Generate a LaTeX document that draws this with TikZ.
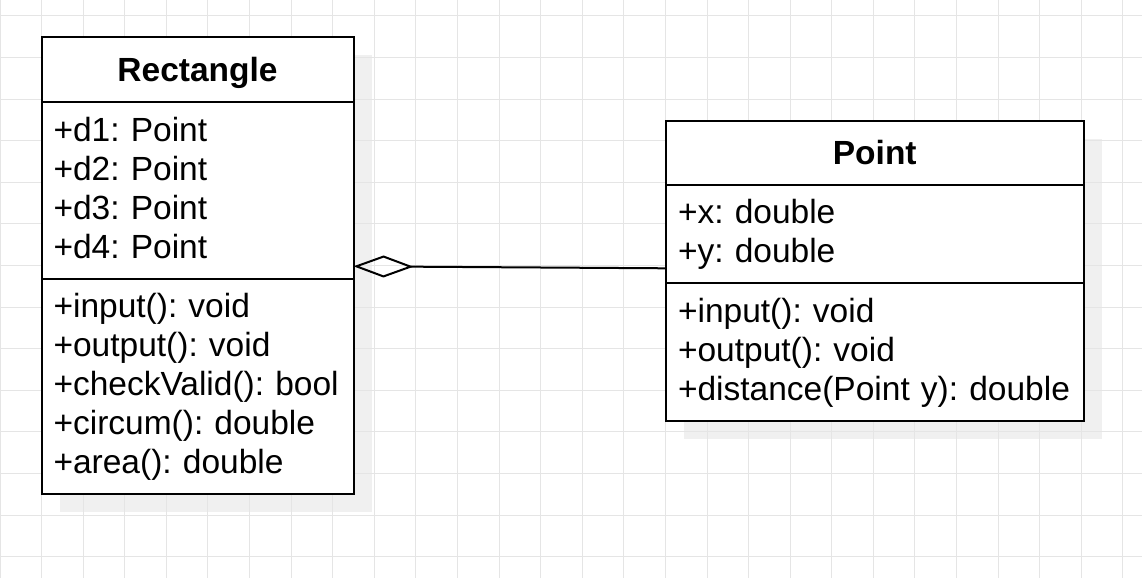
\documentclass[tikz,border=0pt]{standalone}
\usepackage{fontspec}
\setmainfont{Liberation Sans}
\usetikzlibrary{positioning,arrows.meta,backgrounds}
\definecolor{gridgray}{RGB}{229,229,229}
\definecolor{shadowgray}{RGB}{240,240,240}
\newcommand{\umlstrut}{\rule[-10.5pt]{0pt}{39pt}}
\frenchspacing
\tikzset{
  classhead/.style={draw,fill=white,line width=2pt,outer sep=0pt,inner sep=0pt,
    font=\fontsize{33.5}{39}\bfseries\selectfont,text height=24pt,text depth=0pt},
  classpart/.style={draw,fill=white,line width=2pt,outer sep=0pt,inner xsep=12pt,inner ysep=0pt,
    align=left,font=\fontsize{33.5}{39}\selectfont,
    execute at begin node=\umlstrut,execute at end node=\umlstrut},
  gridline/.style={gridgray,line width=1pt},
  aggregation/.style={line width=2pt,-{Diamond[open,length=60pt,width=22pt]}}
}
\begin{document}
\begin{tikzpicture}[x=1pt,y=-1pt]
\useasboundingbox (0,0) rectangle (1142,578);
\begin{scope}[yshift=-16pt]
\draw[gridline,step=41.59pt] (0pt,16pt) grid (1142pt,-562pt);
\end{scope}
\node[classhead,minimum width=312pt,minimum height=65pt,anchor=north west] (rectHead) at (41.5,37) {Rectangle};
\node[classpart,text width=288pt,minimum height=177.3pt,below=0pt of rectHead] (rectAttr)
  {+d1: Point\\+d2: Point\\+d3: Point\\+d4: Point};
\node[classpart,text width=288pt,minimum height=215pt,below=0pt of rectAttr] (rectOps)
  {+input(): void\\+output(): void\\+checkValid(): bool\\+circum(): double\\+area(): double};
\node[classhead,minimum width=417.5pt,minimum height=64.3pt,anchor=north west] (pointHead) at (666,120.7) {Point};
\node[classpart,text width=393.5pt,minimum height=98.3pt,below=0pt of pointHead] (pointAttr)
  {+x: double\\+y: double};
\node[classpart,text width=393.5pt,minimum height=137.7pt,below=0pt of pointAttr] (pointOps)
  {+input(): void\\+output(): void\\+distance(Point y): double};
\draw[aggregation] ([yshift=15pt]pointAttr.south west) -- ([yshift=13pt]rectAttr.south east);
\begin{pgfonlayer}{background}
\fill[white] (0,0) rectangle (1142,578);
\fill[shadowgray] ([shift={(18pt,-18pt)}]rectHead.north west) rectangle ([shift={(18pt,-18pt)}]rectOps.south east);
\fill[shadowgray] ([shift={(18pt,-18pt)}]pointHead.north west) rectangle ([shift={(18pt,-18pt)}]pointOps.south east);
\end{pgfonlayer}
\end{tikzpicture}
\end{document}
